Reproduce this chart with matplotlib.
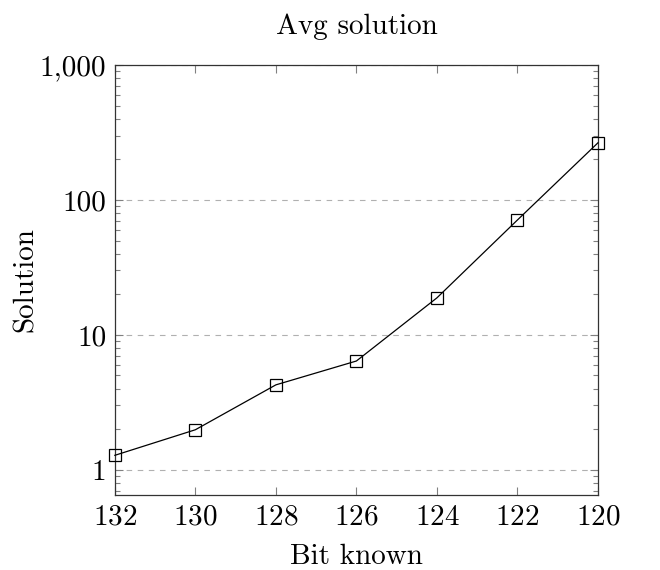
import matplotlib
matplotlib.use("Agg")
import matplotlib.pyplot as plt
from matplotlib.ticker import FixedLocator, FuncFormatter, LogLocator, NullFormatter

plt.rcParams['font.family'] = 'serif'
plt.rcParams['font.serif'] = ['cmr10', 'DejaVu Serif']
plt.rcParams['axes.formatter.use_mathtext'] = True
plt.rcParams['mathtext.fontset'] = 'cm'

bits = [132, 130, 128, 126, 124, 122, 120]
solution = [1.28, 1.98, 4.26, 6.4, 18.8, 71, 265]
yticks = [1, 10, 100, 1000]
ytick_labels = ['1', '10', '100', '1,000']

fig = plt.figure(figsize=(6.6, 5.7), dpi=100)
ax = fig.add_axes([0.174, 0.132, 0.732, 0.754])

ax.plot(bits, solution, color='black', linewidth=0.9, marker='s', markersize=8,
        markerfacecolor='none', markeredgecolor='black', markeredgewidth=0.9, clip_on=False, zorder=3)

ax.set_yscale('log')
ax.set_ylim(0.653, 1000)
ax.set_xlim(132, 120)
ax.set_xticks(bits)
ax.yaxis.set_major_locator(FixedLocator(yticks))
ax.yaxis.set_major_formatter(FuncFormatter(lambda v, p: ytick_labels[yticks.index(round(v))] if round(v) in yticks else ''))
ax.yaxis.set_minor_locator(LogLocator(base=10, subs=range(2, 10), numticks=20))
ax.yaxis.set_minor_formatter(NullFormatter())

ax.grid(axis='y', which='major', color='#b0b0b0', linestyle=(0, (5, 5)), linewidth=0.8)
ax.tick_params(which='both', direction='in', top=True, right=True, color='#808080', labelsize=21)
ax.tick_params(which='major', length=6, width=0.8)
ax.tick_params(which='minor', length=3.5, width=0.8)
ax.tick_params(axis='x', pad=7)
ax.tick_params(axis='y', pad=6)
for s in ax.spines.values():
    s.set_linewidth(0.9)
    s.set_color('#333333')

ax.set_xlabel('Bit known', fontsize=21, labelpad=9)
ax.set_ylabel('Solution', fontsize=21, labelpad=1)
ax.set_title('Avg solution', fontsize=21, pad=22)

fig.savefig('out.png', dpi=100)
